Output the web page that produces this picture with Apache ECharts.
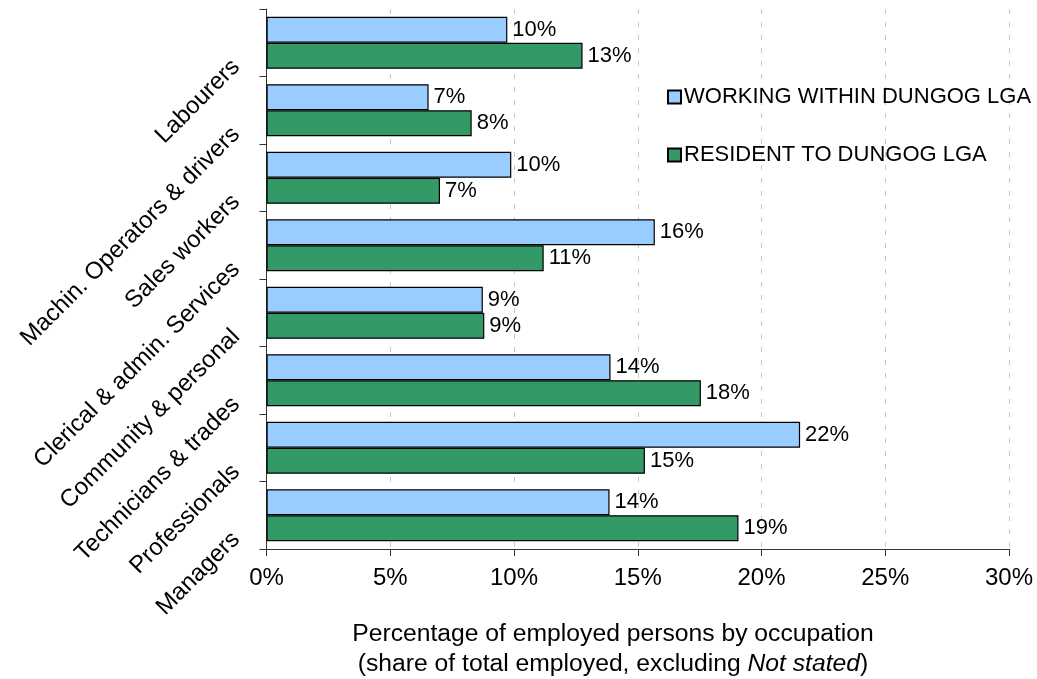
<!DOCTYPE html>
<html>
<head>
<meta charset="utf-8">
<script src="https://cdn.jsdelivr.net/npm/echarts@6/dist/echarts.min.js"></script>
<style>
  html, body { margin: 0; padding: 0; background: #fff; }
  #chart { width: 1037px; height: 679px; }
</style>
</head>
<body>
<div id="chart"></div>
<script>
// Occupation categories, listed bottom to top
const categories = [
  'Managers',
  'Professionals',
  'Technicians & trades',
  'Community & personal',
  'Clerical & admin. Services',
  'Sales workers',
  'Machin. Operators & drivers',
  'Labourers'
];

// Share of employed persons (%) per occupation
const workingWithin = [13.86, 21.56, 13.9, 8.74, 15.69, 9.89, 6.55, 9.73];
const residentTo    = [19.07, 15.29, 17.55, 8.8, 11.2, 7.01, 8.29, 12.77];

const seriesNames = ['WORKING WITHIN DUNGOG LGA', 'RESIDENT TO DUNGOG LGA'];

// Value axis range and step (percent)
const xMin = 0;
const xMax = 30;
const xStep = 5;

const FONT = "'Liberation Sans', Arial, sans-serif";

const chart = echarts.init(document.getElementById('chart'), null, { renderer: 'canvas' });

const barLabel = {
  show: true,
  position: 'right',
  distance: 5,
  fontFamily: FONT,
  fontSize: 22,
  color: '#000',
  formatter: p => Math.round(p.value) + '%'
};

chart.setOption({
  animation: false,
  backgroundColor: '#fff',
  textStyle: { fontFamily: FONT },
  title: {
    text: 'Percentage of employed persons by occupation\n(share of total employed, excluding {i|Not stated})',
    left: 613,
    top: 619,
    textAlign: 'center',
    padding: 0,
    textStyle: {
      fontFamily: FONT,
      fontSize: 24.7,
      fontWeight: 'normal',
      color: '#000',
      lineHeight: 30,
      rich: {
        i: { fontFamily: FONT, fontSize: 24.7, fontStyle: 'italic', color: '#000', lineHeight: 30 }
      }
    }
  },
  legend: {
    orient: 'vertical',
    left: 667,
    top: 86,
    itemWidth: 13,
    itemHeight: 13,
    itemGap: 36,
    padding: 0,
    icon: 'rect',
    textStyle: { fontFamily: FONT, fontSize: 22, color: '#000', lineHeight: 22, padding: [0, 0, 0, -2] },
    data: seriesNames
  },
  grid: {
    left: 266.5,
    right: 28,
    top: 9,
    bottom: 130,
    containLabel: false
  },
  xAxis: {
    type: 'value',
    min: xMin,
    max: xMax,
    interval: xStep,
    axisLine: { show: true, lineStyle: { color: '#333', width: 1 } },
    axisTick: { show: true, length: 7, lineStyle: { color: '#333' } },
    axisLabel: {
      fontFamily: FONT,
      fontSize: 24,
      color: '#000',
      margin: 17,
      formatter: '{value}%'
    },
    splitLine: {
      show: true,
      lineStyle: { color: '#c8c8c8', width: 1, type: [5, 8] }
    }
  },
  yAxis: {
    type: 'category',
    data: categories,
    axisLine: { show: true, lineStyle: { color: '#333', width: 1 } },
    axisTick: { show: true, length: 7, lineStyle: { color: '#333' } },
    axisLabel: {
      rotate: 45,
      fontFamily: FONT,
      fontSize: 24,
      color: '#000',
      margin: 10,
      padding: [27, 29, 0, 0],
      interval: 0
    },
    splitLine: { show: false }
  },
  series: [
    {
      name: seriesNames[0],
      type: 'bar',
      data: workingWithin,
      barGap: '0%',
      barCategoryGap: '23%',
      itemStyle: { color: '#99ccff', borderColor: '#000', borderWidth: 1.2 },
      label: barLabel
    },
    {
      name: seriesNames[1],
      type: 'bar',
      data: residentTo,
      barGap: '0%',
      barCategoryGap: '23%',
      itemStyle: { color: '#339966', borderColor: '#000', borderWidth: 1.2 },
      label: barLabel
    }
  ]
});
</script>
</body>
</html>
